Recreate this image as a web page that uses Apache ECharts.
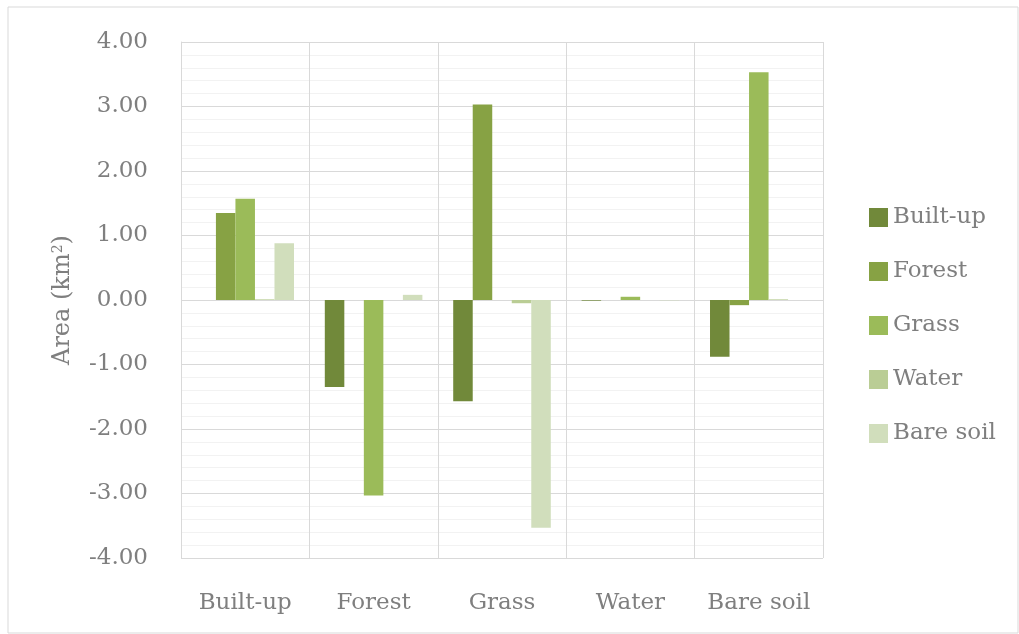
<!DOCTYPE html>
<html>
<head>
<meta charset="utf-8">
<script src="https://cdn.jsdelivr.net/npm/echarts@6/dist/echarts.min.js"></script>
<style>html,body{margin:0;padding:0;background:#fff}#c{width:1019px;height:634px}</style>
</head>
<body>
<div id="c"></div>
<script>
const categories = ['Built-up', 'Forest', 'Grass', 'Water', 'Bare soil'];
const seriesNames = ['Built-up', 'Forest', 'Grass', 'Water', 'Bare soil'];
const builtUp = [0, -1.35, -1.57, -0.01, -0.88];
const forest = [1.35, 0, 3.03, 0, -0.08];
const grass = [1.57, -3.03, 0, 0.05, 3.53];
const water = [0.01, 0, -0.05, 0, 0.01];
const bareSoil = [0.88, 0.08, -3.53, -0.005, 0];
const yTicks = [-4, -3, -2, -1, 0, 1, 2, 3, 4];
const colors = ['#71893A', '#87A244', '#9BBB59', '#BACD95', '#D1DEBC'];

const values = [builtUp, forest, grass, water, bareSoil];
const font = "'DejaVu Serif', 'Liberation Serif', serif";
const txt = '#7F7F7F';

const chart = echarts.init(document.getElementById('c'), null, {renderer: 'canvas'});
chart.setOption({
  animation: false,
  color: colors,
  textStyle: {fontFamily: font, color: txt},
  graphic: [{
    type: 'rect', shape: {x: 8, y: 7, width: 1010, height: 626},
    style: {fill: 'none', stroke: '#D9D9D9', lineWidth: 1}, z: -1
  }],
  grid: {left: 181, right: 196, top: 42, bottom: 76},
  legend: {
    orient: 'vertical', left: 864, top: 201,
    itemWidth: 19, itemHeight: 19, itemGap: 31,
    icon: 'rect',
    textStyle: {fontFamily: font, fontSize: 23, color: txt, padding: [0, 0, 0, 0]},
    data: seriesNames
  },
  xAxis: {
    type: 'category', data: categories, boundaryGap: true,
    axisLine: {show: false, onZero: false},
    axisTick: {show: false},
    axisLabel: {fontFamily: font, fontSize: 23, color: txt, margin: 34, interval: 0},
    splitLine: {show: true, interval: 0, lineStyle: {color: '#D9D9D9', width: 1}}
  },
  yAxis: {
    type: 'value', min: yTicks[0], max: yTicks[yTicks.length - 1], interval: 1,
    name: 'Area (km{sup|2})', nameLocation: 'middle', nameGap: 106, nameRotate: 90,
    nameTextStyle: {fontFamily: font, fontSize: 24, color: txt,
      rich: {sup: {fontFamily: font, fontSize: 14, color: txt, verticalAlign: 'top', padding: [0, 0, 10, 0]}}},
    axisLine: {show: true, lineStyle: {color: '#D9D9D9'}},
    axisTick: {show: false},
    axisLabel: {fontFamily: font, fontSize: 23, color: txt, margin: 33,
      formatter: v => v.toFixed(2)},
    splitLine: {show: true, lineStyle: {color: '#D9D9D9', width: 1}},
    minorTick: {show: false, splitNumber: 5},
    minorSplitLine: {show: true, lineStyle: {color: '#F2F2F2', width: 1}}
  },
  series: seriesNames.map((n, i) => ({
    name: n, type: 'bar', data: values[i],
    barGap: '0%', barCategoryGap: '24%',
    itemStyle: {color: colors[i]}
  }))
});
</script>
</body>
</html>
